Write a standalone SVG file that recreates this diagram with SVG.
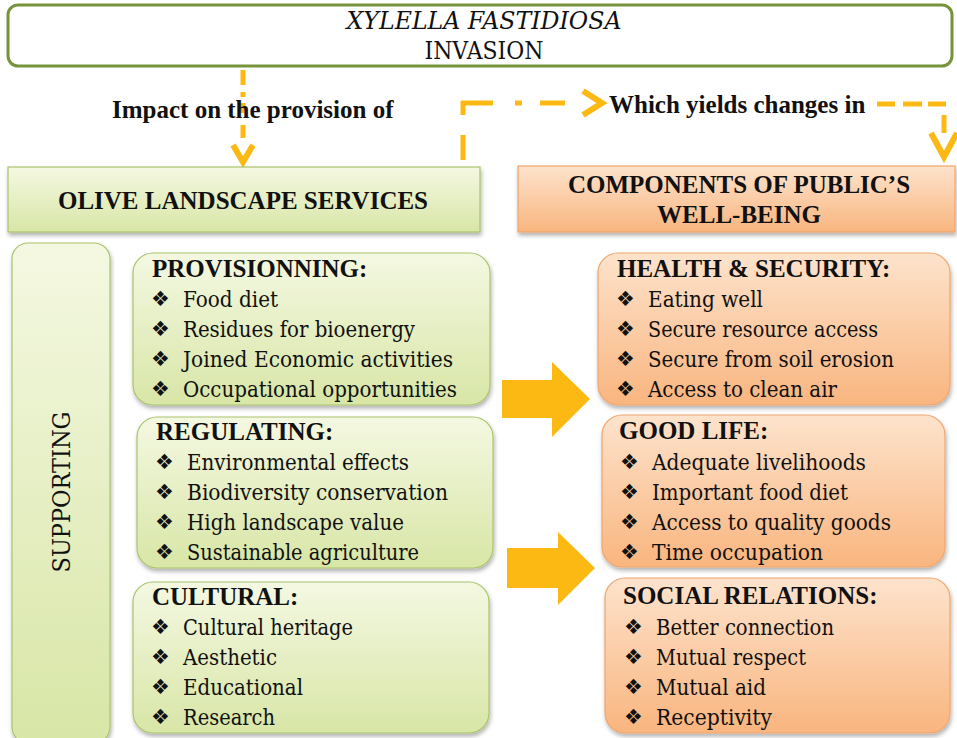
<svg xmlns="http://www.w3.org/2000/svg" width="957" height="738" viewBox="0 0 957 738">
  <defs>
    <linearGradient id="gGreen" x1="0" y1="0" x2="0" y2="1">
      <stop offset="0" stop-color="#f4f8e2"/>
      <stop offset="1" stop-color="#d8e6a6"/>
    </linearGradient>
    <linearGradient id="gOrange" x1="0" y1="0" x2="0" y2="1">
      <stop offset="0" stop-color="#fde3cc"/>
      <stop offset="1" stop-color="#f9b57f"/>
    </linearGradient>
    <filter id="shadow" x="-5%" y="-5%" width="110%" height="115%">
      <feDropShadow dx="1" dy="3" stdDeviation="2" flood-color="#000" flood-opacity="0.3"/>
    </filter>
    <style>
      .t { font-family: "Liberation Serif", "DejaVu Serif", serif; fill: #111; }
      .h { font-size: 25px; font-weight: bold; }
      .b { font-family: "DejaVu Serif", "Liberation Serif", serif; font-size: 22px; font-weight: normal; }
      .big { font-size: 24px; }
      .bul { font-family: "DejaVu Sans", sans-serif; font-size: 21px; fill: #111; }
      .green { fill: url(#gGreen); stroke: #a9c46c; stroke-width: 1.2; filter: url(#shadow); }
      .orange { fill: url(#gOrange); stroke: #f0a56c; stroke-width: 1.2; filter: url(#shadow); }
      .dash { fill: none; stroke: #fdb913; stroke-width: 5; }
      .chev { fill: none; stroke: #fdb913; stroke-width: 6; stroke-linejoin: miter; }
      .block { fill: #fdb913; }
    </style>
  </defs>

  <rect width="957" height="738" fill="#ffffff"/>

  <!-- invasion header -->
  <g id="invasion">
    <rect x="8" y="5" width="944" height="61" rx="10" fill="#ffffff" stroke="#77933c" stroke-width="3"/>
    <text class="t b big" x="484" y="29" font-style="italic" text-anchor="middle" textLength="275" lengthAdjust="spacingAndGlyphs">XYLELLA FASTIDIOSA</text>
    <text class="t b big" x="484" y="59" text-anchor="middle" textLength="119" lengthAdjust="spacingAndGlyphs">INVASION</text>
  </g>

  <!-- dashed connectors and block arrows -->
  <g id="connectors">
    <path class="dash" d="M243,70 V85 M243,92 V97 M243,103 V113 M243,125 V138"/>
    <path class="chev" d="M233,145 L243,162 L253,145"/>
    <path class="dash" d="M463,160 V135 M463,115 V101 M461,103 H493 M515,103 H522 M540,103 H565"/>
    <path class="chev" d="M583,91 L602,103 L583,115"/>
    <path class="dash" d="M877,104 H895 M903,104 H922 M928,104 H946 M944,115 V133"/>
    <path class="chev" d="M931,133 L944,157 L957,133"/>
    <polygon class="block" points="502,380 552,380 552,362 590,399 552,437 552,418 502,418"/>
    <polygon class="block" points="507,548 558,548 558,532 595,568 558,605 558,588 507,588"/>
  </g>

  <g id="label-impact">
    <text class="t h" x="112" y="118">Impact on the provision of</text>
  </g>
  <g id="label-yields">
    <text class="t h" x="609" y="113">Which yields changes in</text>
  </g>

  <!-- services column -->
  <g id="olive-services">
    <rect class="green" x="8" y="167" width="472" height="65"/>
    <text class="t h" x="243" y="209" text-anchor="middle">OLIVE LANDSCAPE SERVICES</text>
  </g>

  <g id="supporting">
    <rect class="green" x="12" y="243" width="98" height="500" rx="16"/>
    <text class="t b big" transform="translate(70,492) rotate(-90)" text-anchor="middle" textLength="161" lengthAdjust="spacingAndGlyphs">SUPPORTING</text>
  </g>

  <g id="provisioning">
    <rect class="green" x="133" y="253" width="357" height="152" rx="20"/>
    <text class="t h" x="152" y="277">PROVISIONNING:</text>
    <text class="bul" x="151" y="306">❖</text><text class="t b" x="183" y="307" textLength="95" lengthAdjust="spacingAndGlyphs">Food diet</text>
    <text class="bul" x="151" y="336">❖</text><text class="t b" x="183" y="337" textLength="232" lengthAdjust="spacingAndGlyphs">Residues for bioenergy</text>
    <text class="bul" x="151" y="366">❖</text><text class="t b" x="183" y="367" textLength="270" lengthAdjust="spacingAndGlyphs">Joined Economic activities</text>
    <text class="bul" x="151" y="396">❖</text><text class="t b" x="183" y="397" textLength="274" lengthAdjust="spacingAndGlyphs">Occupational opportunities</text>
  </g>

  <g id="regulating">
    <rect class="green" x="137" y="417" width="356" height="151" rx="20"/>
    <text class="t h" x="156" y="440">REGULATING:</text>
    <text class="bul" x="155" y="469">❖</text><text class="t b" x="187" y="470" textLength="222" lengthAdjust="spacingAndGlyphs">Environmental effects</text>
    <text class="bul" x="155" y="499">❖</text><text class="t b" x="187" y="500" textLength="261" lengthAdjust="spacingAndGlyphs">Biodiversity conservation</text>
    <text class="bul" x="155" y="529">❖</text><text class="t b" x="187" y="530" textLength="217" lengthAdjust="spacingAndGlyphs">High landscape value</text>
    <text class="bul" x="155" y="559">❖</text><text class="t b" x="187" y="560" textLength="232" lengthAdjust="spacingAndGlyphs">Sustainable agriculture</text>
  </g>

  <g id="cultural">
    <rect class="green" x="133" y="582" width="356" height="151" rx="20"/>
    <text class="t h" x="152" y="605">CULTURAL:</text>
    <text class="bul" x="151" y="634">❖</text><text class="t b" x="183" y="635" textLength="170" lengthAdjust="spacingAndGlyphs">Cultural heritage</text>
    <text class="bul" x="151" y="664">❖</text><text class="t b" x="183" y="665" textLength="94" lengthAdjust="spacingAndGlyphs">Aesthetic</text>
    <text class="bul" x="151" y="694">❖</text><text class="t b" x="183" y="695" textLength="120" lengthAdjust="spacingAndGlyphs">Educational</text>
    <text class="bul" x="151" y="724">❖</text><text class="t b" x="183" y="725" textLength="92" lengthAdjust="spacingAndGlyphs">Research</text>
  </g>

  <!-- well-being column -->
  <g id="well-being">
    <rect class="orange" x="518" y="166" width="437" height="66"/>
    <text class="t h" x="739" y="193" text-anchor="middle">COMPONENTS OF PUBLIC’S</text>
    <text class="t h" x="739" y="223" text-anchor="middle">WELL-BEING</text>
  </g>

  <g id="health-security">
    <rect class="orange" x="598" y="253" width="352" height="152" rx="20"/>
    <text class="t h" x="617" y="277">HEALTH &amp; SECURITY:</text>
    <text class="bul" x="616" y="306">❖</text><text class="t b" x="648" y="307" textLength="115" lengthAdjust="spacingAndGlyphs">Eating well</text>
    <text class="bul" x="616" y="336">❖</text><text class="t b" x="648" y="337" textLength="230" lengthAdjust="spacingAndGlyphs">Secure resource access</text>
    <text class="bul" x="616" y="366">❖</text><text class="t b" x="648" y="367" textLength="246" lengthAdjust="spacingAndGlyphs">Secure from soil erosion</text>
    <text class="bul" x="616" y="396">❖</text><text class="t b" x="648" y="397" textLength="189" lengthAdjust="spacingAndGlyphs">Access to clean air</text>
  </g>

  <g id="good-life">
    <rect class="orange" x="602" y="415" width="343" height="152" rx="20"/>
    <text class="t h" x="619" y="439">GOOD LIFE:</text>
    <text class="bul" x="620" y="469">❖</text><text class="t b" x="652" y="470" textLength="214" lengthAdjust="spacingAndGlyphs">Adequate livelihoods</text>
    <text class="bul" x="620" y="499">❖</text><text class="t b" x="652" y="500" textLength="196" lengthAdjust="spacingAndGlyphs">Important food diet</text>
    <text class="bul" x="620" y="529">❖</text><text class="t b" x="652" y="530" textLength="239" lengthAdjust="spacingAndGlyphs">Access to quality goods</text>
    <text class="bul" x="620" y="559">❖</text><text class="t b" x="652" y="560" textLength="171" lengthAdjust="spacingAndGlyphs">Time occupation</text>
  </g>

  <g id="social-relations">
    <rect class="orange" x="605" y="578" width="345" height="155" rx="20"/>
    <text class="t h" x="623" y="604">SOCIAL RELATIONS:</text>
    <text class="bul" x="624" y="634">❖</text><text class="t b" x="656" y="635" textLength="178" lengthAdjust="spacingAndGlyphs">Better connection</text>
    <text class="bul" x="624" y="664">❖</text><text class="t b" x="656" y="665" textLength="150" lengthAdjust="spacingAndGlyphs">Mutual respect</text>
    <text class="bul" x="624" y="694">❖</text><text class="t b" x="656" y="695" textLength="110" lengthAdjust="spacingAndGlyphs">Mutual aid</text>
    <text class="bul" x="624" y="724">❖</text><text class="t b" x="656" y="725" textLength="116" lengthAdjust="spacingAndGlyphs">Receptivity</text>
  </g>
</svg>
